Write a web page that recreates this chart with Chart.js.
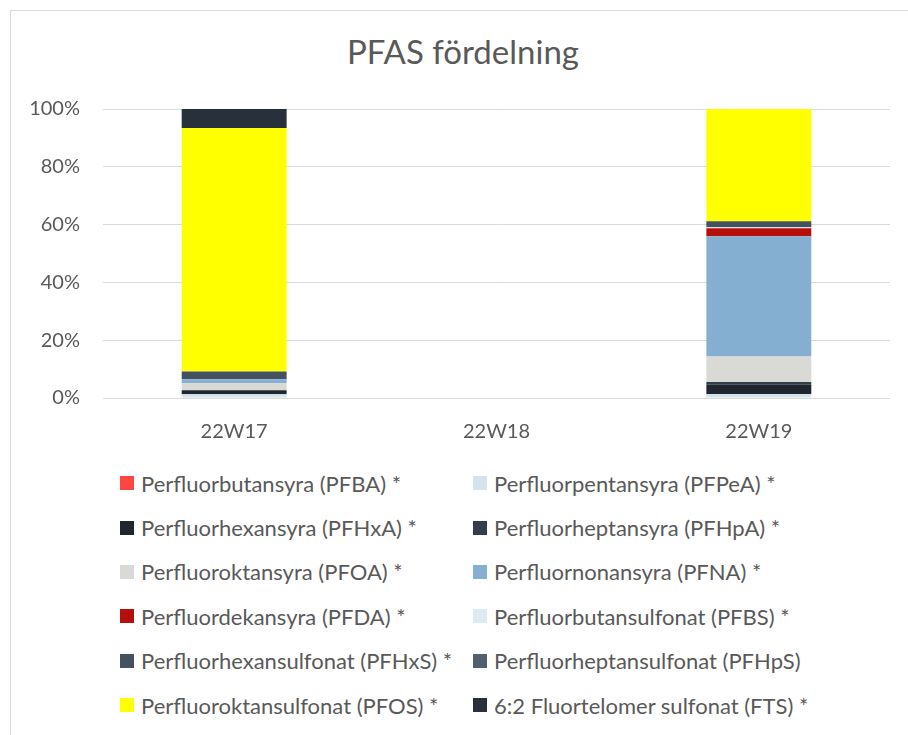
<!DOCTYPE html>
<html>
<head>
<meta charset="utf-8">
<script src="https://cdn.jsdelivr.net/npm/chart.js@4.4.0/dist/chart.umd.min.js"></script>
<style>
  html, body { margin: 0; padding: 0; background: #fff; }
  #wrap { position: relative; width: 908px; height: 735px; overflow: hidden; font-family: Lato, "Open Sans", sans-serif; }
  #frame { position: absolute; left: 10px; top: 10px; width: 900px; height: 760px; border: 1px solid #d9d9d9; box-sizing: border-box; }
  #box { position: absolute; left: 0; top: 0; width: 908px; height: 460px; }
  #title { position: absolute; left: 18px; top: 31px; width: 890px; text-align: center; font-size: 33px; line-height: 40px; color: #595959; }
  #legend { position: absolute; left: 120px; top: 461px; display: grid; grid-template-columns: 353px 353px; grid-auto-rows: 44.4px; }
  .item { display: flex; align-items: center; font-size: 22px; color: #595959; white-space: nowrap; }
  .sw { width: 14px; height: 14px; margin-right: 7px; flex: none; }
</style>
</head>
<body>
<div id="wrap">
  <div id="frame"></div>
  <div id="title">PFAS fördelning</div>
  <div id="box"><canvas id="pfasChart"></canvas></div>
  <div id="legend"></div>
</div>
<script>
const weeks = ['22W17', '22W18', '22W19'];
const yTicks = [0, 20, 40, 60, 80, 100];

const seriesNames = [
    'Perfluorbutansyra (PFBA) *',
    'Perfluorpentansyra (PFPeA) *',
    'Perfluorhexansyra (PFHxA) *',
    'Perfluorheptansyra (PFHpA) *',
    'Perfluoroktansyra (PFOA) *',
    'Perfluornonansyra (PFNA) *',
    'Perfluordekansyra (PFDA) *',
    'Perfluorbutansulfonat (PFBS) *',
    'Perfluorhexansulfonat (PFHxS) *',
    'Perfluorheptansulfonat (PFHpS)',
    'Perfluoroktansulfonat (PFOS) *',
    '6:2 Fluortelomer sulfonat (FTS) *'
];

// share in % per week (22W17, 22W18, 22W19)
const pfba  = [0, 0, 0];
const pfpea = [1.3, 0, 1.4];
const pfhxa = [1.4, 0, 3.2];
const pfhpa = [0, 0, 0.9];
const pfoa  = [2.4, 0, 8.9];
const pfna  = [1.4, 0, 41.6];
const pfda  = [0, 0, 2.7];
const pfbs  = [0, 0, 0.4];
const pfhxs = [2.7, 0, 2.1];
const pfhps = [0, 0, 0];
const pfos  = [84.2, 0, 38.8];
const fts   = [6.6, 0, 0];

const seriesValues = [pfba, pfpea, pfhxa, pfhpa, pfoa, pfna, pfda, pfbs, pfhxs, pfhps, pfos, fts];

const colors = [
    '#ff4640', '#d5e3ef', '#1f262f', '#333e4a', '#d9d9d5', '#84afd0',
    '#b40f0a', '#dfe9f3', '#44525f', '#526170', '#ffff00', '#27303b'
];

const textColor = '#595959';

const datasets = seriesNames.map(function(name, i) {
    return {
        label: name,
        data: seriesValues[i],
        backgroundColor: colors[i],
        borderWidth: 0,
        barPercentage: 0.5,
        categoryPercentage: 0.8
    };
});

const config = {
    type: 'bar',
    data: { labels: weeks, datasets: datasets },
    options: {
        responsive: true,
        maintainAspectRatio: false,
        animation: false,
        layout: { padding: { left: 0, right: 18, top: 109, bottom: 0 } },
        scales: {
            x: {
                stacked: true,
                grid: { display: false, drawTicks: false },
                border: { display: false },
                ticks: { color: textColor, font: { family: 'Lato', size: 20 }, padding: 22 },
                afterFit: function(scale) { scale.height = 62; }
            },
            y: {
                stacked: true,
                min: 0,
                max: 100,
                afterBuildTicks: function(scale) {
                    scale.ticks = yTicks.map(function(v) { return { value: v }; });
                },
                grid: { color: '#d9d9d9', lineWidth: 1, drawTicks: false },
                border: { display: false },
                ticks: {
                    color: textColor,
                    font: { family: 'Lato', size: 20 },
                    padding: 23,
                    callback: function(v) { return v + '%'; }
                },
                afterFit: function(scale) { scale.width = 103; }
            }
        },
        plugins: {
            legend: { display: false },
            tooltip: { enabled: false },
            title: { display: false }
        }
    }
};

const pfasChart = new Chart(document.getElementById('pfasChart'), config);

// two column legend built from the datasets
const legendEl = document.getElementById('legend');
pfasChart.data.datasets.forEach(function(ds) {
    const item = document.createElement('div');
    item.className = 'item';
    const sw = document.createElement('span');
    sw.className = 'sw';
    sw.style.background = ds.backgroundColor;
    const label = document.createElement('span');
    label.textContent = ds.label;
    item.appendChild(sw);
    item.appendChild(label);
    legendEl.appendChild(item);
});
</script>
</body>
</html>
